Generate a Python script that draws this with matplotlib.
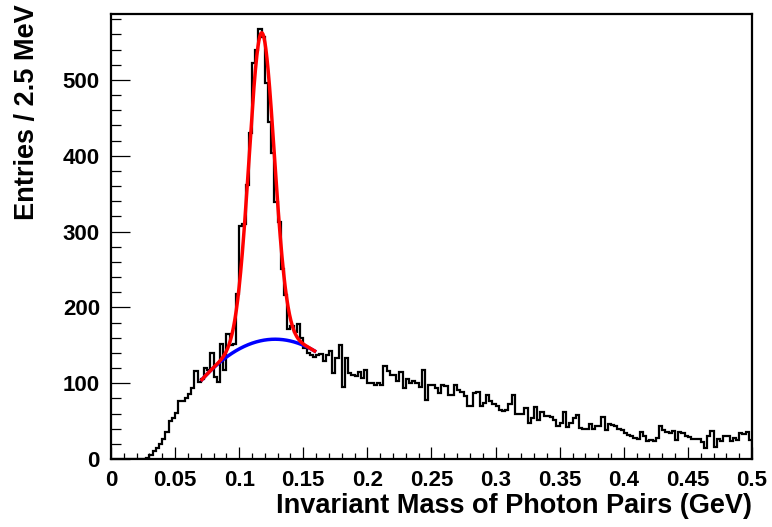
import numpy as np
import matplotlib
matplotlib.use("Agg")
import matplotlib.pyplot as plt
from matplotlib.ticker import MultipleLocator

# histogram: entries per 2.5 MeV bin, 0 - 0.5 GeV (200 bins)
mass_lo, mass_hi, n_bins = 0.0, 0.5, 200
counts = [
    0, 0, 0, 0, 0, 0, 0, 0, 0, 0, 0, 1,
    5, 10, 14, 20, 26, 35, 50, 54, 61, 77, 76, 80, 86, 93, 116, 102, 105, 120,
    118, 140, 108, 102, 152, 118, 165, 150, 152, 218,
    308, 310, 362, 430, 522, 540, 567, 557, 496, 444,
    404, 339, 312, 251, 216, 172, 175, 168, 178, 160,
    146, 140, 137, 135, 137, 139, 129, 137, 142, 113,
    133, 150, 95, 133, 113, 111, 109, 115, 107, 118,
    100, 100, 98, 100, 98, 123, 116, 111, 111, 103,
    115, 94, 105, 100, 103, 100, 95, 118, 78, 98,
    97, 94, 87, 98, 96, 85, 85, 98, 91, 89,
    83, 70, 70, 87, 89, 70, 74, 85, 76, 73,
    70, 65, 63, 65, 72, 85, 60, 59, 60, 67,
    48, 54, 68, 52, 62, 57, 57, 56, 52, 43,
    48, 62, 42, 47, 54, 58, 41, 40, 40, 46,
    39, 44, 43, 56, 38, 46, 45, 44, 40, 38,
    34, 32, 30, 28, 26, 36, 30, 24, 25, 24,
    28, 43, 38, 35, 34, 37, 25, 36, 34, 30,
    29, 27, 27, 27, 22, 15, 30, 37, 16, 27,
    24, 30, 30, 24, 28, 25, 34, 33, 35, 25,
]

# fit: gaussian peak on a quadratic background, fitted in 0.07 - 0.16 GeV
fit_range = (0.07, 0.16)
peak_amp, peak_mean, peak_sigma = 406.0, 0.1175, 0.0098
bkg_top, bkg_center, bkg_curv = 158.0, 0.128, 16350.0

x_ticks = [0, 0.05, 0.1, 0.15, 0.2, 0.25, 0.3, 0.35, 0.4, 0.45, 0.5]
x_ticklabels = ["0", "0.05", "0.1", "0.15", "0.2", "0.25", "0.3", "0.35", "0.4", "0.45", "0.5"]
y_ticks = [0, 100, 200, 300, 400, 500]

font = "Liberation Sans"
plt.rcParams["font.family"] = [font, "DejaVu Sans"]
plt.rcParams["font.weight"] = "bold"


def background(x):
    return bkg_top - bkg_curv * (x - bkg_center) ** 2


def total(x):
    return peak_amp * np.exp(-0.5 * ((x - peak_mean) / peak_sigma) ** 2) + background(x)


fig = plt.figure(figsize=(7.72, 5.27), dpi=100)
W, H = 772, 527
ax = fig.add_axes([111 / W, 1 - 459 / H, (752 - 111) / W, (459 - 14) / H])

edges = np.linspace(mass_lo, mass_hi, n_bins + 1)
ax.stairs(counts, edges, color="black", linewidth=1.6)

xf = np.linspace(fit_range[0], fit_range[1], 400)
ax.plot(xf, background(xf), color="#0000ff", linewidth=2.5, solid_capstyle="butt")
ax.plot(xf, total(xf), color="#ff0000", linewidth=2.5, solid_capstyle="butt")

ax.set_xlim(mass_lo, mass_hi)
ax.set_ylim(0, 587)

ax.set_xticks(x_ticks)
ax.set_xticklabels(x_ticklabels)
ax.set_yticks(y_ticks)
ax.xaxis.set_minor_locator(MultipleLocator(0.01))
ax.yaxis.set_minor_locator(MultipleLocator(20))

ax.tick_params(axis="x", which="major", direction="in", length=8.6, width=0.9,
               labelsize=16, pad=8, top=False)
ax.tick_params(axis="x", which="minor", direction="in", length=4.3, width=0.9, top=False)
ax.tick_params(axis="y", which="major", direction="in", length=14, width=0.9,
               labelsize=16, pad=8, right=False)
ax.tick_params(axis="y", which="minor", direction="in", length=7, width=0.9, right=False)
for lab in ax.get_xticklabels() + ax.get_yticklabels():
    lab.set_fontweight("bold")

for sp in ax.spines.values():
    sp.set_linewidth(1.6)

fig.text(752 / W, 1 - 506 / H, "Invariant Mass of Photon Pairs (GeV)",
         ha="right", va="center", fontsize=19.5, fontweight="bold")
fig.text(27 / W, 1 - 4 / H, "Entries / 2.5 MeV", rotation=90,
         ha="center", va="top", fontsize=19.5, fontweight="bold")

fig.savefig("out.png", dpi=100, facecolor="white")
plt.close(fig)
